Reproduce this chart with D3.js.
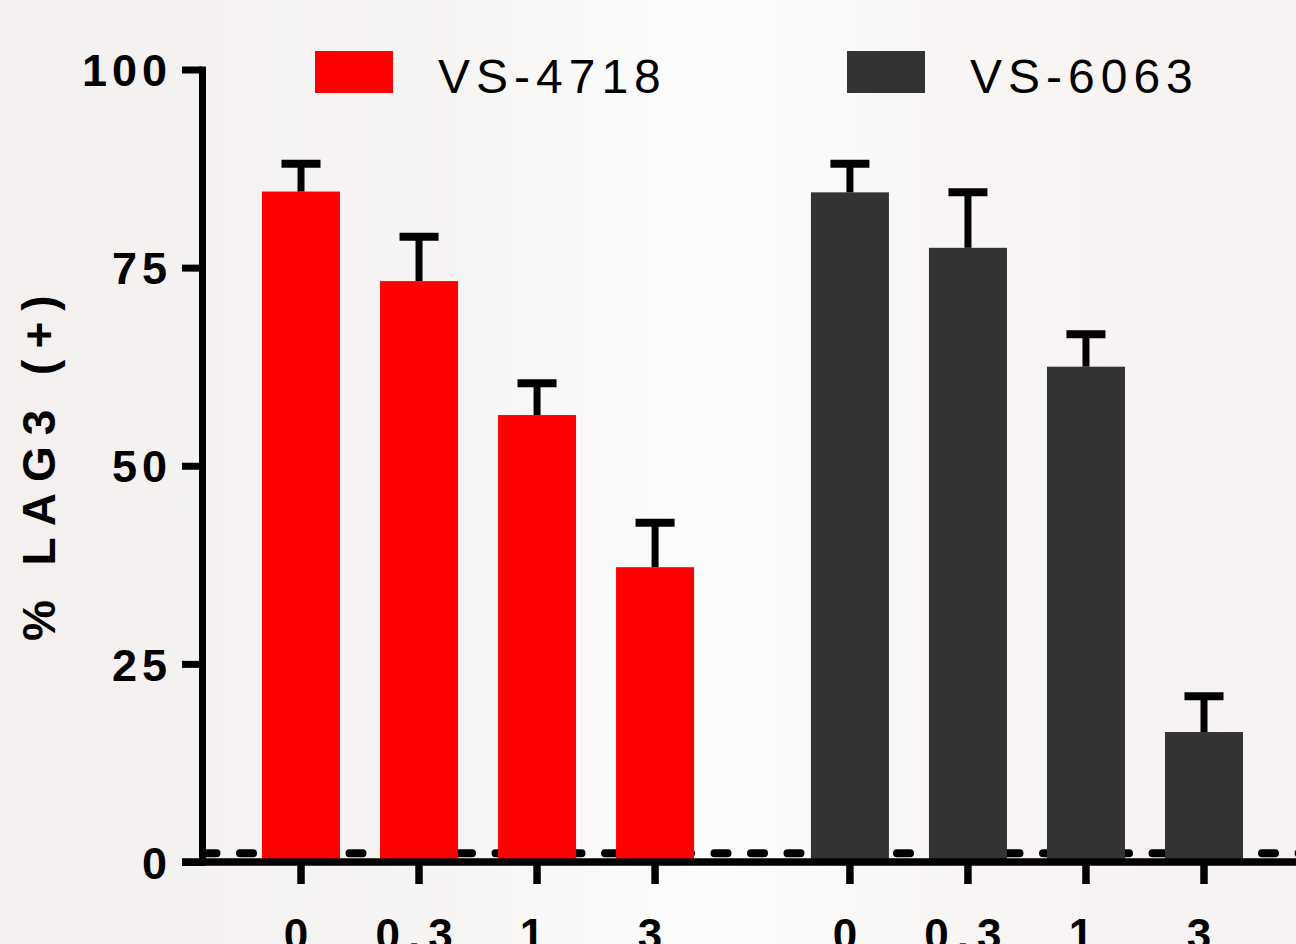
<!DOCTYPE html>
<html>
<head>
<meta charset="utf-8">
<script src="https://cdn.jsdelivr.net/npm/d3@7"></script>
<style>
  html, body { margin: 0; padding: 0; background: #f6f3f2; }
  svg { display: block; }
</style>
</head>
<body>
<svg id="chart" width="1296" height="944"></svg>
<script>
// ---- data ----
const groups = ["VS-4718", "VS-6063"];
const doses = ["0", "0.3", "1", "3"];
const means4718 = [84.6, 73.3, 56.4, 37.2];
const errs4718  = [3.5, 5.6, 4.0, 5.6];
const means6063 = [84.5, 77.5, 62.5, 16.4];
const errs6063  = [3.6, 7.0, 4.1, 4.5];
const yTicks = [0, 25, 50, 75, 100];
const baselineValue = 1.1;
const yLabel = "% LAG3 (+)";
const colors = { "VS-4718": "#ff0000", "VS-6063": "#333333" };

const series = {
  "VS-4718": { means: means4718, errs: errs4718 },
  "VS-6063": { means: means6063, errs: errs6063 }
};
const rows = [];
groups.forEach(g => doses.forEach((d, i) => rows.push({ group: g, dose: d, mean: series[g].means[i], err: series[g].errs[i] })));

// ---- layout ----
const W = 1296, H = 944;
const svg = d3.select("#chart");
const FONT = "Arial, 'Liberation Sans', sans-serif";

// background
const defs = svg.append("defs");
const bg = defs.append("linearGradient").attr("id", "bg").attr("x1", "0").attr("x2", "1").attr("y1", "0").attr("y2", "0");
bg.append("stop").attr("offset", "0%").attr("stop-color", "#f3f0ef");
bg.append("stop").attr("offset", "35%").attr("stop-color", "#f7f5f4");
bg.append("stop").attr("offset", "55%").attr("stop-color", "#fdfdfd");
bg.append("stop").attr("offset", "75%").attr("stop-color", "#f8f5f4");
bg.append("stop").attr("offset", "100%").attr("stop-color", "#f5f2f1");
svg.append("rect").attr("width", W).attr("height", H).attr("fill", "url(#bg)");

const y = d3.scaleLinear().domain([0, 100]).range([862, 69.5]);
const outer = d3.scaleBand().domain(groups).range([242, 1263]).paddingInner(0.14).paddingOuter(0);
const inner = d3.scaleBand().domain(doses).range([0, outer.bandwidth()]).paddingInner(0.339).paddingOuter(0.1695);
const cx = d => outer(d.group) + inner(d.dose) + inner.bandwidth() / 2;

// dashed baseline
svg.append("line")
  .attr("x1", 203.5).attr("x2", W + 10)
  .attr("y1", y(baselineValue)).attr("y2", y(baselineValue))
  .attr("stroke", "#000").attr("stroke-width", 8)
  .attr("stroke-linecap", "round")
  .attr("stroke-dasharray", "13 23.5");

// bars
svg.append("g").selectAll("rect").data(rows).join("rect")
  .attr("x", d => outer(d.group) + inner(d.dose))
  .attr("width", inner.bandwidth())
  .attr("y", d => y(d.mean))
  .attr("height", d => y(0) - y(d.mean))
  .attr("fill", d => colors[d.group]);

// error bars
const eb = svg.append("g").attr("stroke", "#000");
eb.selectAll("line.stem").data(rows).join("line").attr("class", "stem")
  .attr("x1", cx).attr("x2", cx)
  .attr("y1", d => y(d.mean)).attr("y2", d => y(d.mean + d.err))
  .attr("stroke-width", 7);
eb.selectAll("line.cap").data(rows).join("line").attr("class", "cap")
  .attr("x1", d => cx(d) - inner.bandwidth() / 4).attr("x2", d => cx(d) + inner.bandwidth() / 4)
  .attr("y1", d => y(d.mean + d.err)).attr("y2", d => y(d.mean + d.err))
  .attr("stroke-width", 8);

// y axis
const yAxis = svg.append("g").attr("transform", "translate(202,0)")
  .call(d3.axisLeft(y).tickValues(yTicks).tickSize(20).tickSizeOuter(0).tickPadding(10));
yAxis.select(".domain").attr("stroke-width", 7).attr("stroke-linecap", "square");
yAxis.selectAll(".tick line").attr("stroke-width", 7);
yAxis.selectAll(".tick text")
  .attr("x", -30)
  .attr("dy", "0.36em")
  .attr("font-family", FONT).attr("font-weight", "bold").attr("font-size", 45)
  .attr("letter-spacing", 5)
  .attr("fill", "#000");

// x axis line
svg.append("line").attr("x1", 182).attr("x2", W + 10).attr("y1", y(0)).attr("y2", y(0))
  .attr("stroke", "#000").attr("stroke-width", 7.5);

// x ticks and labels per group
groups.forEach(g => {
  const ax = svg.append("g").attr("transform", `translate(${outer(g)},${y(0)})`)
    .call(d3.axisBottom(inner).tickSize(22).tickSizeOuter(0).tickPadding(0));
  ax.select(".domain").remove();
  ax.selectAll(".tick line").attr("stroke-width", 7.5);
  ax.selectAll(".tick text")
    .attr("y", 88).attr("dy", 0)
    .attr("x", -1)
    .attr("font-family", FONT).attr("font-weight", "bold").attr("font-size", 44)
    .attr("letter-spacing", 8)
    .attr("fill", "#000");
});

// y label
svg.append("text")
  .attr("transform", `translate(55,${y(50) - 3}) rotate(-90)`)
  .attr("text-anchor", "middle")
  .attr("font-family", FONT).attr("font-weight", "bold").attr("font-size", 46)
  .attr("letter-spacing", 11)
  .attr("fill", "#000")
  .text(yLabel);

// legend
const legendX = { "VS-4718": 315, "VS-6063": 847 };
groups.forEach(g => {
  svg.append("rect").attr("x", legendX[g]).attr("y", 51).attr("width", 78).attr("height", 42).attr("fill", colors[g]);
  svg.append("text").attr("x", legendX[g] + 123).attr("y", 93)
    .attr("font-family", FONT).attr("font-size", 48)
    .attr("letter-spacing", 6)
    .attr("fill", "#000")
    .text(g);
});
</script>
</body>
</html>
